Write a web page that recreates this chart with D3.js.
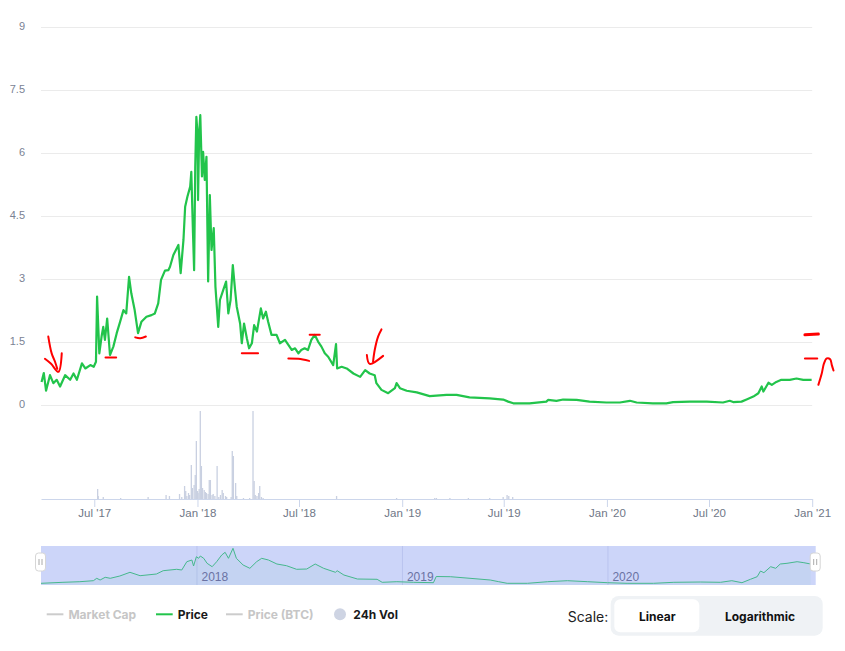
<!DOCTYPE html>
<html><head><meta charset="utf-8">
<script src="https://cdn.jsdelivr.net/npm/d3@7"></script>
<style>
html,body{margin:0;padding:0;background:#fff;}
svg{display:block;}
</style></head><body>
<svg id="chart" width="845" height="651"></svg>
<script>
// ---------------- DATA ----------------
const xDomain = ['2017-03-28', '2021-01-01'];
const navDomain = ['2017-03-30', '2021-01-04'];

const priceDates = ['2017-03-29','2017-04-02','2017-04-06','2017-04-13','2017-04-19','2017-04-25','2017-05-01','2017-05-10','2017-05-19','2017-05-25','2017-05-31','2017-06-09','2017-06-15','2017-06-24','2017-06-30','2017-07-04','2017-07-06','2017-07-10','2017-07-14','2017-07-17','2017-07-20','2017-07-24','2017-07-29','2017-08-04','2017-08-10','2017-08-16','2017-08-22','2017-08-27','2017-09-01','2017-09-05','2017-09-11','2017-09-17','2017-09-23','2017-10-02','2017-10-11','2017-10-17','2017-10-23','2017-10-28','2017-11-04','2017-11-10','2017-11-13','2017-11-19','2017-11-28','2017-12-02','2017-12-07','2017-12-10','2017-12-14','2017-12-19','2017-12-21','2017-12-24','2017-12-26','2017-12-28','2017-12-30','2018-01-01','2018-01-02','2018-01-04','2018-01-06','2018-01-09','2018-01-11','2018-01-14','2018-01-17','2018-01-20','2018-01-23','2018-01-26','2018-01-30','2018-02-02','2018-02-07','2018-02-10','2018-02-16','2018-02-21','2018-02-25','2018-03-01','2018-03-05','2018-03-09','2018-03-12','2018-03-18','2018-03-21','2018-03-25','2018-03-30','2018-04-03','2018-04-08','2018-04-12','2018-04-17','2018-04-24','2018-04-28','2018-05-03','2018-05-07','2018-05-13','2018-05-22','2018-05-28','2018-06-06','2018-06-12','2018-06-18','2018-06-24','2018-06-30','2018-07-05','2018-07-11','2018-07-17','2018-07-23','2018-07-29','2018-08-04','2018-08-10','2018-08-16','2018-08-22','2018-08-31','2018-09-05','2018-09-07','2018-09-15','2018-09-24','2018-10-06','2018-10-18','2018-10-27','2018-11-04','2018-11-13','2018-11-16','2018-11-25','2018-12-07','2018-12-19','2018-12-22','2018-12-28','2019-01-09','2019-01-27','2019-02-19','2019-03-21','2019-04-08','2019-05-01','2019-06-06','2019-06-30','2019-07-09','2019-07-18','2019-08-16','2019-09-15','2019-09-18','2019-10-03','2019-10-15','2019-11-08','2019-12-01','2019-12-31','2020-01-24','2020-02-11','2020-02-23','2020-03-23','2020-04-16','2020-04-28','2020-05-28','2020-06-27','2020-07-26','2020-08-07','2020-08-13','2020-08-28','2020-09-06','2020-09-18','2020-09-27','2020-10-03','2020-10-06','2020-10-15','2020-10-21','2020-10-29','2020-11-07','2020-11-22','2020-12-04','2020-12-16','2020-12-31'];
const priceValues = [0.55,0.76,0.34,0.71,0.52,0.60,0.44,0.71,0.60,0.75,0.60,0.99,0.87,0.95,0.91,1.03,2.58,1.23,1.63,1.86,1.55,2.06,1.19,1.39,1.71,1.98,2.26,2.18,3.05,2.66,2.26,1.71,1.98,2.10,2.14,2.18,2.42,2.98,3.20,3.21,3.29,3.57,3.81,3.14,3.93,4.72,4.96,5.20,5.55,4.09,3.21,5.67,6.86,6.47,4.88,6.47,6.90,5.44,6.03,5.36,5.91,2.94,5.00,3.69,4.21,2.82,1.86,2.50,2.74,2.94,2.18,2.50,3.33,2.74,2.34,1.94,1.47,1.94,1.59,1.35,1.47,1.90,1.75,2.30,2.06,2.22,1.98,1.67,1.67,1.47,1.55,1.43,1.31,1.35,1.23,1.31,1.35,1.31,1.55,1.67,1.51,1.39,1.23,1.15,0.95,1.45,0.87,0.91,0.87,0.75,0.67,0.83,0.75,0.71,0.52,0.36,0.28,0.40,0.52,0.40,0.34,0.30,0.21,0.24,0.24,0.18,0.16,0.13,0.08,0.04,0.04,0.08,0.12,0.10,0.13,0.12,0.08,0.06,0.06,0.10,0.06,0.04,0.04,0.07,0.08,0.08,0.06,0.10,0.07,0.08,0.13,0.20,0.28,0.44,0.32,0.53,0.48,0.55,0.60,0.60,0.63,0.60,0.60];

const volumeDates = ['2017-07-07','2017-07-08','2017-07-17','2017-08-17','2017-10-05','2017-11-06','2017-11-12','2017-11-30','2017-12-04','2017-12-09','2017-12-11','2017-12-13','2017-12-16','2017-12-18','2017-12-21','2017-12-23','2017-12-26','2017-12-28','2017-12-30','2018-01-01','2018-01-02','2018-01-04','2018-01-06','2018-01-08','2018-01-10','2018-01-13','2018-01-15','2018-01-17','2018-01-20','2018-01-22','2018-01-24','2018-01-27','2018-01-29','2018-02-01','2018-02-05','2018-02-08','2018-02-11','2018-02-14','2018-02-16','2018-02-20','2018-02-22','2018-03-02','2018-03-04','2018-03-06','2018-03-10','2018-03-12','2018-03-24','2018-04-04','2018-04-10','2018-04-12','2018-04-14','2018-04-17','2018-04-20','2018-04-22','2018-04-25','2018-04-28','2018-09-06','2018-12-22','2019-02-28','2019-03-03','2019-03-27','2019-04-29','2019-06-06','2019-06-30','2019-07-07','2019-07-10','2019-07-17'];
const volumeValues = [10,3,2,1,2,4,3,5,2,13,8,3,6,4,34,11,14,24,58,8,6,10,88,33,11,9,7,6,5,19,19,4,5,3,33,2,4,9,6,3,2,2,48,43,16,3,1,1,88,18,4,3,6,13,2,1,3,1,1,1,1,1,1,2,4,3,2];

const navDates = ['2017-03-30','2017-05-08','2017-06-07','2017-07-01','2017-07-07','2017-07-13','2017-07-22','2017-07-31','2017-08-17','2017-09-04','2017-09-22','2017-10-21','2017-11-02','2017-11-26','2017-12-05','2017-12-14','2017-12-23','2017-12-26','2017-12-31','2018-01-04','2018-01-07','2018-01-13','2018-01-19','2018-01-28','2018-02-05','2018-02-14','2018-02-20','2018-02-26','2018-03-06','2018-03-12','2018-03-24','2018-04-05','2018-04-17','2018-04-26','2018-05-08','2018-05-23','2018-06-09','2018-06-27','2018-07-15','2018-07-30','2018-08-14','2018-09-04','2018-09-07','2018-09-19','2018-10-13','2018-11-17','2018-11-26','2018-12-22','2019-01-21','2019-02-25','2019-03-02','2019-03-27','2019-05-01','2019-06-06','2019-06-21','2019-07-06','2019-08-11','2019-09-16','2019-10-21','2019-11-26','2019-12-31','2020-02-04','2020-03-22','2020-04-27','2020-06-13','2020-07-19','2020-08-08','2020-08-26','2020-09-10','2020-09-22','2020-09-28','2020-10-04','2020-10-16','2020-10-25','2020-11-02','2020-11-14','2020-12-02','2020-12-14','2020-12-26'];
const navValues = [17,27,33,43,67,50,77,67,90,127,93,110,143,157,150,233,250,190,283,267,290,267,217,183,233,300,327,267,367,267,200,167,233,267,250,210,193,157,160,210,167,127,143,100,60,57,27,33,27,23,85,83,67,50,33,17,17,33,43,33,23,17,17,27,30,27,43,23,57,83,140,123,183,167,210,217,233,223,210];

const yTickValues = [0, 1.5, 3, 4.5, 6, 7.5, 9];
const xTickDates = ['2017-07-01','2018-01-01','2018-07-01','2019-01-01','2019-07-01','2020-01-01','2020-07-01','2021-01-01'];
const xTickLabels = ["Jul '17","Jan '18","Jul '18","Jan '19","Jul '19","Jan '20","Jul '20","Jan '21"];
const navYearDates = ['2018-01-01','2019-01-01','2020-01-01'];
const navYearLabels = ['2018','2019','2020'];
const legendLabels = ['Market Cap', 'Price', 'Price (BTC)', '24h Vol'];
const scaleLabel = 'Scale:';
const scaleOptions = ['Linear', 'Logarithmic'];

// hand-drawn red marks (date, price)
const annotations = [
  {w:2, pts:[['2017-04-10',1.63],['2017-04-16',1.23],['2017-04-22',1.03],['2017-04-26',0.86]]},
  {w:2, pts:[['2017-04-04',1.10],['2017-04-15',0.98],['2017-04-28',0.79],['2017-05-04',1.23]]},
  {w:2, pts:[['2017-07-21',1.13],['2017-08-09',1.13]]},
  {w:2, pts:[['2017-09-12',1.61],['2017-09-21',1.59],['2017-10-01',1.63]]},
  {w:2, pts:[['2018-03-21',1.23],['2018-04-19',1.23]]},
  {w:2, pts:[['2018-06-12',1.11],['2018-06-30',1.10],['2018-07-19',1.05]]},
  {w:2, pts:[['2018-07-20',1.67],['2018-08-07',1.67]]},
  {w:2, pts:[['2018-11-25',1.80],['2018-11-19',1.63],['2018-11-13',1.31],['2018-11-10',1.03]]},
  {w:2, pts:[['2018-10-30',1.19],['2018-11-04',0.98],['2018-11-28',1.17]]},
  {w:3, pts:[['2020-12-19',1.67],['2021-01-12',1.69]]},
  {w:2, pts:[['2020-12-19',1.11],['2021-01-10',1.11]]},
  {w:2, pts:[['2021-01-12',0.48],['2021-01-18',0.75],['2021-01-22',0.99],['2021-01-27',1.11],['2021-02-02',1.09],['2021-02-05',0.95],['2021-02-08',0.82]]}
];

// ---------------- DRAW ----------------
const parse = d3.timeParse('%Y-%m-%d');
const svg = d3.select('#chart');
const AXIS_FONT = '"Liberation Sans", Arial, sans-serif';
const UI_FONT = 'Inter, "Liberation Sans", Arial, sans-serif';
const plotL = 41, plotR = 812.2;

const x = d3.scaleTime().domain(xDomain.map(parse)).range([plotL, plotR]);
const y = d3.scaleLinear().domain([0, 9]).range([405, 27]);
const yVol = d3.scaleLinear().domain([0, 94]).range([499, 405]);

// y grid + labels
const yAxis = svg.append('g').attr('transform', `translate(${plotL},0)`)
  .call(d3.axisLeft(y).tickValues(yTickValues).tickSize(-(plotR - plotL)).tickPadding(16)
    .tickFormat(d => d));
yAxis.select('.domain').remove();
yAxis.selectAll('line').attr('stroke', '#ebebeb').attr('stroke-width', 1);
yAxis.selectAll('text').attr('fill', '#7a8294').attr('font-size', 11).attr('font-family', AXIS_FONT).attr('dy', '0.2em');

// volume bars
svg.append('g').selectAll('rect').data(volumeDates.map((d, i) => ({d: parse(d), v: volumeValues[i]})))
  .join('rect')
  .attr('x', d => x(d.d) - 0.65).attr('width', 1.3)
  .attr('y', d => yVol(d.v)).attr('height', d => yVol(0) - yVol(d.v))
  .attr('fill', '#c9d0e1');

// x axis
const xAxis = svg.append('g').attr('transform', 'translate(0,499)')
  .call(d3.axisBottom(x).tickValues(xTickDates.map(parse)).tickFormat((d, i) => xTickLabels[i])
    .tickSizeInner(8).tickSizeOuter(0).tickPadding(1.5));
xAxis.select('.domain').attr('stroke', '#ccd6eb');
xAxis.selectAll('line').attr('stroke', '#ccd6eb');
xAxis.selectAll('text').attr('fill', '#6f7787').attr('font-size', 11.5).attr('font-family', AXIS_FONT);

// price line
const priceData = priceDates.map((d, i) => ({d: parse(d), v: priceValues[i]}));
svg.append('path').datum(priceData)
  .attr('fill', 'none').attr('stroke', '#22c44b').attr('stroke-width', 2.2)
  .attr('stroke-linejoin', 'round')
  .attr('d', d3.line().x(d => x(d.d)).y(d => y(d.v)));

// annotations
const annLine = d3.line().x(p => x(parse(p[0]))).y(p => y(p[1])).curve(d3.curveCatmullRom);
svg.append('g').selectAll('path').data(annotations).join('path')
  .attr('fill', 'none').attr('stroke', '#ff0000').attr('stroke-linecap', 'round').attr('stroke-linejoin', 'round')
  .attr('stroke-width', a => a.w)
  .attr('d', a => annLine(a.pts));

// navigator
const nx = d3.scaleTime().domain(navDomain.map(parse)).range([41, 815.7]);
const ny = d3.scaleLinear().domain([0, 390]).range([585, 546]);
const nav = svg.append('g');
nav.append('rect').attr('x', 41).attr('y', 546).attr('width', 815.7 - 41).attr('height', 39).attr('fill', '#ccd5f9');
nav.selectAll('line.yr').data(navYearDates.map(parse)).join('line').attr('class', 'yr')
  .attr('x1', d => nx(d)).attr('x2', d => nx(d)).attr('y1', 546).attr('y2', 585)
  .attr('stroke', '#b9c3ef').attr('stroke-width', 1);
const navData = navDates.map((d, i) => ({d: parse(d), v: navValues[i]}));
nav.append('path').datum(navData).attr('fill', '#45b98c').attr('fill-opacity', 0.06)
  .attr('d', d3.area().x(d => nx(d.d)).y0(585).y1(d => ny(d.v)));
nav.append('path').datum(navData).attr('fill', 'none').attr('stroke', '#46b88d').attr('stroke-width', 1)
  .attr('d', d3.line().x(d => nx(d.d)).y(d => ny(d.v)));
nav.selectAll('text.yr').data(navYearDates.map(parse)).join('text').attr('class', 'yr')
  .attr('x', d => nx(d) + 4.5).attr('y', 581).text((d, i) => navYearLabels[i])
  .attr('fill', '#6a72a3').attr('font-size', 12).attr('font-family', AXIS_FONT);
// handles
[41 - 0.5, 815.2].forEach(cx => {
  nav.append('rect').attr('x', cx - 5).attr('y', 553).attr('width', 10).attr('height', 18).attr('rx', 3)
    .attr('fill', '#fff').attr('stroke', '#d6d6d6');
  [-1.5, 1.5].forEach(o => nav.append('line').attr('x1', cx + o).attr('x2', cx + o).attr('y1', 559).attr('y2', 565)
    .attr('stroke', '#aaa').attr('stroke-width', 1));
});

// legend
const lg = svg.append('g').attr('font-family', UI_FONT).attr('font-weight', 700).attr('font-size', 12);
const legendItems = [
  {kind: 'line', x: 46.7, color: '#cccccc', text: '#c6c6c6'},
  {kind: 'line', x: 156, color: '#22c44b', text: '#1a1a1a'},
  {kind: 'line', x: 226, color: '#cccccc', text: '#c6c6c6'},
  {kind: 'dot', x: 334, color: '#ced4e3', text: '#1a1a1a'}
];
legendItems.forEach((it, i) => {
  if (it.kind === 'line') {
    lg.append('line').attr('x1', it.x).attr('x2', it.x + 16.7).attr('y1', 614.3).attr('y2', 614.3)
      .attr('stroke', it.color).attr('stroke-width', 2);
    lg.append('text').attr('x', it.x + 21.7).attr('y', 614.3).attr('dominant-baseline', 'central')
      .attr('fill', it.text).text(legendLabels[i]);
  } else {
    lg.append('circle').attr('cx', it.x + 6).attr('cy', 614.3).attr('r', 6).attr('fill', it.color);
    lg.append('text').attr('x', it.x + 19.3).attr('y', 614.3).attr('dominant-baseline', 'central')
      .attr('fill', it.text).text(legendLabels[i]);
  }
});

// scale switch
const sc = svg.append('g').attr('font-family', UI_FONT);
sc.append('text').attr('x', 567.7).attr('y', 616.7).attr('dominant-baseline', 'central')
  .attr('font-size', 14).attr('fill', '#222').text(scaleLabel);
sc.append('rect').attr('x', 610.7).attr('y', 596).attr('width', 212).attr('height', 39.7).attr('rx', 8).attr('fill', '#eff2f5');
sc.append('rect').attr('x', 614.3).attr('y', 599.3).attr('width', 85).attr('height', 33).attr('rx', 6).attr('fill', '#ffffff');
[657.3, 760].forEach((cx, i) => sc.append('text').attr('x', cx).attr('y', 616.5).attr('text-anchor', 'middle')
  .attr('dominant-baseline', 'central').attr('font-size', 12).attr('font-weight', 700).attr('fill', '#111')
  .text(scaleOptions[i]));
</script>
</body></html>
